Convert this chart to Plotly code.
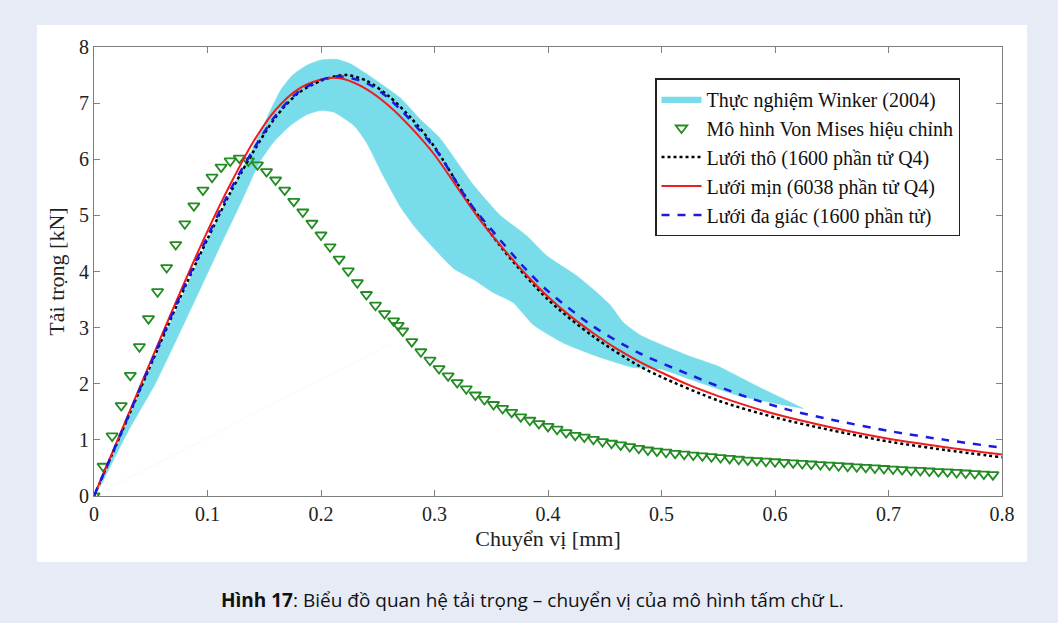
import plotly.graph_objects as go

# ---------------- data ----------------
# Experimental band (Winker 2004): polygon = lower edge (left->right) + upper edge (right->left)
band_lower_x = [0.005, 0.01, 0.03, 0.054, 0.08, 0.11, 0.13, 0.146, 0.158, 0.173, 0.188, 0.2, 0.211,
                0.229, 0.24, 0.255, 0.27, 0.284, 0.3, 0.317, 0.335, 0.352, 0.369, 0.387, 0.413,
                0.443, 0.475, 0.5, 0.525, 0.569, 0.6, 0.625]
band_lower_y = [0.15, 0.35, 1.15, 2.0, 3.1, 4.4, 5.25, 5.95, 6.3, 6.6, 6.8, 6.87, 6.84,
                6.6, 6.3, 5.7, 5.15, 4.76, 4.4, 4.05, 3.85, 3.62, 3.45, 3.05, 2.73,
                2.49, 2.29, 2.26, 2.08, 1.78, 1.65, 1.56]
band_upper_x = [0.625, 0.584, 0.549, 0.525, 0.481, 0.466, 0.455, 0.44, 0.425, 0.399, 0.381, 0.358,
                0.334, 0.305, 0.287, 0.27, 0.246, 0.226, 0.214, 0.2, 0.188, 0.175, 0.165, 0.155,
                0.14, 0.12, 0.1, 0.05, 0.02, 0.005]
band_upper_y = [1.56, 1.96, 2.32, 2.49, 2.87, 3.1, 3.4, 3.68, 3.93, 4.28, 4.64, 5.0,
                5.55, 6.37, 6.72, 7.09, 7.44, 7.7, 7.78, 7.77, 7.68, 7.5, 7.25, 6.85,
                6.2, 5.4, 4.55, 2.3, 0.9, 0.15]

# Modified Von Mises model (markers)
vm_x = [0.000, 0.008, 0.016, 0.024, 0.032, 0.040, 0.048, 0.056, 0.064, 0.072,
        0.080, 0.088, 0.096, 0.104, 0.112, 0.120, 0.128, 0.136, 0.144, 0.152,
        0.160, 0.168, 0.176, 0.184, 0.192, 0.200, 0.208, 0.216, 0.224, 0.232,
        0.240, 0.248, 0.256, 0.264, 0.268, 0.272, 0.280, 0.288, 0.296, 0.304,
        0.312, 0.320, 0.328, 0.336, 0.344, 0.352, 0.360, 0.368, 0.376, 0.384,
        0.392, 0.400, 0.408, 0.416, 0.424, 0.432, 0.440, 0.448, 0.456, 0.464,
        0.472, 0.480, 0.488, 0.496, 0.504, 0.512, 0.520, 0.528, 0.536, 0.544,
        0.552, 0.560, 0.568, 0.576, 0.584, 0.592, 0.600, 0.608, 0.616, 0.624,
        0.632, 0.640, 0.648, 0.656, 0.664, 0.672, 0.680, 0.688, 0.696, 0.704,
        0.712, 0.720, 0.728, 0.736, 0.744, 0.752, 0.760, 0.768, 0.776, 0.784, 0.792]
vm_y = [0.00, 0.53, 1.07, 1.61, 2.15, 2.66, 3.16, 3.64, 4.07, 4.48,
        4.85, 5.17, 5.45, 5.68, 5.86, 5.97, 6.02, 5.97, 5.90, 5.78,
        5.63, 5.45, 5.25, 5.06, 4.86, 4.65, 4.44, 4.22, 4.01, 3.80,
        3.59, 3.40, 3.25, 3.12, 3.04, 2.94, 2.75, 2.57, 2.42, 2.27,
        2.14, 2.02, 1.91, 1.80, 1.72, 1.63, 1.56, 1.49, 1.41, 1.35,
        1.29, 1.24, 1.19, 1.13, 1.08, 1.05, 1.01, 0.97, 0.94, 0.91,
        0.88, 0.85, 0.82, 0.80, 0.78, 0.76, 0.745, 0.73, 0.715, 0.70,
        0.685, 0.67, 0.655, 0.64, 0.63, 0.62, 0.61, 0.60, 0.59, 0.58,
        0.57, 0.56, 0.55, 0.54, 0.53, 0.52, 0.51, 0.50, 0.49, 0.48,
        0.47, 0.46, 0.455, 0.445, 0.435, 0.43, 0.42, 0.41, 0.40, 0.39, 0.38]

# Coarse mesh (1600 Q4) - dotted
coarse_x = [0, 0.02, 0.04, 0.06, 0.08, 0.10, 0.12, 0.14, 0.16, 0.18, 0.20, 0.215, 0.223, 0.24,
            0.26, 0.28, 0.30, 0.33, 0.36, 0.40, 0.44, 0.48, 0.50, 0.55, 0.60, 0.65, 0.70, 0.75, 0.80]
coarse_y = [0, 0.93, 1.87, 2.80, 3.72, 4.58, 5.40, 6.12, 6.75, 7.18, 7.40, 7.49, 7.50, 7.40,
            7.12, 6.72, 6.22, 5.25, 4.40, 3.50, 2.84, 2.32, 2.12, 1.70, 1.40, 1.17, 0.97, 0.82, 0.69]

# Fine mesh (6038 Q4) - solid red
fine_x = [0, 0.02, 0.04, 0.06, 0.08, 0.10, 0.12, 0.14, 0.16, 0.18, 0.20, 0.21, 0.22,
          0.24, 0.26, 0.28, 0.30, 0.32, 0.34, 0.36, 0.38, 0.40, 0.42, 0.44, 0.46, 0.48, 0.50,
          0.525, 0.55, 0.575, 0.60, 0.65, 0.70, 0.75, 0.80]
fine_y = [0, 0.96, 1.92, 2.88, 3.82, 4.72, 5.55, 6.30, 6.88, 7.25, 7.42, 7.45, 7.43,
          7.25, 6.95, 6.55, 6.08, 5.50, 4.92, 4.42, 3.96, 3.55, 3.20, 2.90, 2.63, 2.40, 2.20,
          1.97, 1.78, 1.61, 1.46, 1.22, 1.02, 0.87, 0.74]

# Polygonal mesh (1600 elements) - dashed blue
poly_x = [0, 0.02, 0.04, 0.06, 0.08, 0.10, 0.12, 0.14, 0.16, 0.18, 0.20, 0.215, 0.24, 0.26,
          0.30, 0.33, 0.35, 0.38, 0.40, 0.44, 0.48, 0.525, 0.57, 0.613, 0.65, 0.70, 0.75, 0.80]
poly_y = [0, 0.94, 1.89, 2.83, 3.75, 4.62, 5.45, 6.16, 6.78, 7.20, 7.41, 7.48, 7.36, 7.08,
          6.20, 5.25, 4.75, 4.05, 3.65, 3.02, 2.55, 2.16, 1.80, 1.53, 1.36, 1.16, 1.00, 0.86]

# faint auxiliary line visible in the source
faint_x = [0, 0.26]
faint_y = [0, 2.7]

x_ticks = [0, 0.1, 0.2, 0.3, 0.4, 0.5, 0.6, 0.7, 0.8]
y_ticks = [0, 1, 2, 3, 4, 5, 6, 7, 8]

legend_names = ["Thực nghiệm Winker (2004)", "Mô hình Von Mises hiệu chỉnh",
                "Lưới thô (1600 phần tử Q4)", "Lưới mịn (6038 phần tử Q4)",
                "Lưới đa giác (1600 phần tử)"]

caption = "<b>Hình 17</b>: Biểu đồ quan hệ tải trọng – chuyển vị của mô hình tấm chữ L."

# ---------------- figure ----------------
W, H = 1058, 623
ML, MR, MT, MB = 94, 56, 47, 127
PW, PH = W - ML - MR, H - MT - MB

serif = "Liberation Serif, Times New Roman, serif"

fig = go.Figure()

fig.add_trace(go.Scatter(x=faint_x, y=faint_y, mode="lines",
                         line=dict(color="rgba(0,0,0,0.03)", width=1),
                         showlegend=False, hoverinfo="skip"))

fig.add_trace(go.Scatter(x=band_lower_x + band_upper_x, y=band_lower_y + band_upper_y,
                         mode="lines", fill="toself", fillcolor="#79dcea",
                         line=dict(color="#79dcea", width=0.5, shape="spline", smoothing=0.5),
                         name=legend_names[0], legendgroup="g0"))

fig.add_trace(go.Scatter(x=vm_x, y=vm_y, mode="markers",
                         marker=dict(symbol="triangle-down-open", size=10,
                                     color="#228b22", line=dict(width=1.8, color="#228b22")),
                         name=legend_names[1], legendgroup="g1"))

fig.add_trace(go.Scatter(x=coarse_x, y=coarse_y, mode="lines",
                         line=dict(color="black", width=2.5, dash="dot", shape="spline", smoothing=0.8),
                         name=legend_names[2], legendgroup="g2"))

fig.add_trace(go.Scatter(x=fine_x, y=fine_y, mode="lines",
                         line=dict(color="#ee1c1c", width=2, shape="spline", smoothing=0.8),
                         name=legend_names[3], legendgroup="g3"))

fig.add_trace(go.Scatter(x=poly_x, y=poly_y, mode="lines",
                         line=dict(color="#1a1ae0", width=2.5, dash="8px,8px", shape="spline",
                                   smoothing=0.8),
                         name=legend_names[4], legendgroup="g4"))

# white panel behind chart
fig.add_shape(type="rect", xref="paper", yref="paper", layer="below",
              x0=(37 - ML) / PW, x1=(1027 - ML) / PW,
              y0=(H - MB - 562) / PH, y1=(H - MB - 25) / PH,
              fillcolor="white", line=dict(width=0))

fig.add_annotation(text=caption, xref="paper", yref="paper",
                   x=(532 - ML) / PW, y=(H - MB - 600) / PH,
                   xanchor="center", yanchor="middle", showarrow=False,
                   font=dict(family="Open Sans, Noto Sans, sans-serif", size=19, color="#111"))

axis_common = dict(showline=True, linecolor="#7f7f7f", linewidth=1, mirror="ticks",
                   ticks="inside", ticklen=6, tickcolor="#7f7f7f", showgrid=False,
                   zeroline=False, tickfont=dict(family=serif, size=20, color="#222"))

fig.update_xaxes(range=[0, 0.8], tickvals=x_ticks, ticktext=[str(t) for t in x_ticks],
                 title=dict(text="Chuyển vị [mm]", font=dict(family=serif, size=22, color="#222"),
                            standoff=6), **axis_common)
fig.update_yaxes(range=[0, 8], tickvals=y_ticks, ticktext=[str(t) for t in y_ticks],
                 title=dict(text="Tải trọng [kN]", font=dict(family=serif, size=22, color="#222"),
                            standoff=8), **axis_common)

fig.update_layout(
    width=W, height=H,
    margin=dict(l=ML, r=MR, t=MT, b=MB),
    paper_bgcolor="#e7ebf6", plot_bgcolor="white",
    showlegend=True,
    legend=dict(x=(655 - ML) / PW, y=(H - MB - 78) / PH, xanchor="left", yanchor="top",
                bgcolor="white", bordercolor="#222", borderwidth=1.5,
                font=dict(family=serif, size=20, color="#111"),
                tracegroupgap=0, itemwidth=40),
)

fig.write_html("out.html")
